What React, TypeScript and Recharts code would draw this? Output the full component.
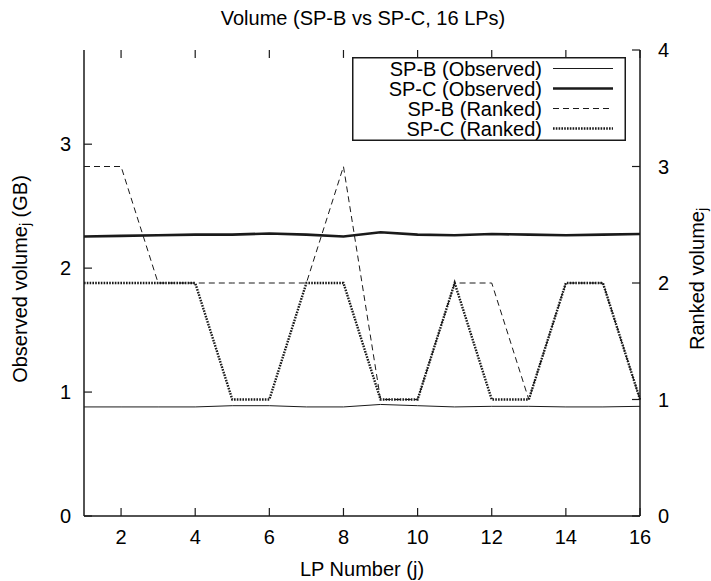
import React from 'react';
import { LineChart, Line, XAxis, YAxis, Legend, Label, ReferenceLine } from 'recharts';

const lpNumbers = [1, 2, 3, 4, 5, 6, 7, 8, 9, 10, 11, 12, 13, 14, 15, 16];
const spbObserved = [0.88, 0.88, 0.88, 0.88, 0.89, 0.89, 0.88, 0.88, 0.9, 0.89, 0.88, 0.885, 0.885, 0.88, 0.88, 0.885];
const spcObserved = [2.255, 2.26, 2.265, 2.27, 2.27, 2.28, 2.27, 2.255, 2.29, 2.27, 2.265, 2.275, 2.27, 2.265, 2.27, 2.275];
const spbRanked = [3, 3, 2, 2, 2, 2, 2, 3, 1, 1, 2, 2, 1, 2, 2, 1];
const spcRanked = [2, 2, 2, 2, 1, 1, 2, 2, 1, 1, 2, 1, 1, 2, 2, 1];

const xTicks = [2, 4, 6, 8, 10, 12, 14, 16];
const leftTicks = [0, 1, 2, 3];
const rightTicks = [0, 1, 2, 3, 4];
const rightMax = 4;

const titleText = 'Volume (SP-B vs SP-C, 16 LPs)';
const xLabelText = 'LP Number (j)';
const seriesOrder = ['spbObs', 'spcObs', 'spbRank', 'spcRank'];

const data = lpNumbers.map((lp, i) => ({
  lp,
  spbObs: spbObserved[i],
  spcObs: spcObserved[i],
  spbRank: spbRanked[i],
  spcRank: spcRanked[i],
}));

const FONT = '"Liberation Sans", Arial, Helvetica, sans-serif';
const INK = '#1a1a1a';
const TOP_TICK_LEN = 0.068; // ~8px in right-axis units

const seriesStyle: Record<string, { width: number; dash?: string }> = {
  spbObs: { width: 1 },
  spcObs: { width: 2.6 },
  spbRank: { width: 1, dash: '6 4' },
  spcRank: { width: 2.4, dash: '1.6 1.2' },
};

const renderLegend = (props: any) => {
  const payload = [...(props.payload || [])].sort(
    (a: any, b: any) => seriesOrder.indexOf(a.dataKey) - seriesOrder.indexOf(b.dataKey)
  );
  return (
    <svg width={274} height={84} style={{ display: 'block', overflow: 'visible' }}>
      <rect x={0.75} y={0.75} width={272.5} height={82.5} fill="none" stroke={INK} strokeWidth={1.5} />
      {payload.map((entry: any, i: number) => {
        const s = seriesStyle[entry.dataKey] || { width: 1 };
        const cy = 11.5 + i * 20;
        return (
          <g key={String(entry.dataKey)}>
            <text x={190} y={cy} textAnchor="end" dominantBaseline="central" fontSize={20} fontFamily={FONT} fill="#000">
              {entry.value}
            </text>
            <line x1={201} x2={261} y1={cy} y2={cy} stroke={INK} strokeWidth={s.width} strokeDasharray={s.dash} />
          </g>
        );
      })}
    </svg>
  );
};

const tickStyle = { fontSize: 20, fill: '#000', fontFamily: FONT };
const axisLine = { stroke: INK, strokeWidth: 1.5 };
const tickLine = { stroke: INK, strokeWidth: 1.2 };

export default function App() {
  return (
    <div style={{ position: 'absolute', left: 0, top: 0, width: 711, height: 581, background: '#fff' }}>
      <div
        style={{
          position: 'absolute',
          left: 84,
          top: 8,
          width: 558,
          textAlign: 'center',
          fontFamily: FONT,
          fontSize: 20,
          lineHeight: '20px',
          color: '#000',
          whiteSpace: 'nowrap',
          zIndex: 2,
        }}
      >
        {titleText}
      </div>
      <LineChart width={711} height={581} data={data} margin={{ top: 50, right: 0, bottom: 0, left: 0 }}>
        <XAxis
          dataKey="lp"
          type="number"
          domain={[1, 16]}
          ticks={xTicks}
          interval={0}
          height={65}
          tick={tickStyle}
          tickSize={-8}
          tickMargin={22}
          axisLine={axisLine}
          tickLine={tickLine}
        >
          <Label
            content={(p: any) => {
              const vb = p.viewBox || {};
              return (
                <text x={vb.x + vb.width / 2} y={vb.y + vb.height - 5} textAnchor="middle" fontSize={20} fontFamily={FONT} fill="#000">
                  {xLabelText}
                </text>
              );
            }}
          />
        </XAxis>
        <XAxis
          xAxisId="top"
          orientation="top"
          dataKey="lp"
          type="number"
          domain={[1, 16]}
          ticks={xTicks}
          interval={0}
          height={0}
          tick={false}
          tickLine={false}
          axisLine={axisLine}
        />
        <YAxis
          yAxisId="left"
          orientation="left"
          type="number"
          domain={[0, 3.76]}
          ticks={leftTicks}
          interval={0}
          width={84}
          tick={tickStyle}
          tickSize={-8}
          tickMargin={21}
          axisLine={axisLine}
          tickLine={tickLine}
        >
          <Label
            content={(p: any) => {
              const vb = p.viewBox || {};
              const cx = vb.x + 20;
              const cy = vb.y + vb.height / 2 - 4;
              return (
                <text transform={`rotate(-90, ${cx}, ${cy})`} x={cx} y={cy} textAnchor="middle" dominantBaseline="central" fontSize={20} fontFamily={FONT} fill="#000">
                  Observed volume<tspan dy={5} fontSize={14}>j</tspan>
                  <tspan dy={-5}> (GB)</tspan>
                </text>
              );
            }}
          />
        </YAxis>
        <YAxis
          yAxisId="right"
          orientation="right"
          type="number"
          domain={[0, rightMax]}
          ticks={rightTicks}
          interval={0}
          width={71}
          tick={tickStyle}
          tickSize={-8}
          tickMargin={26}
          axisLine={axisLine}
          tickLine={tickLine}
        >
          <Label
            content={(p: any) => {
              const vb = p.viewBox || {};
              const cx = vb.x + 57;
              const cy = vb.y + vb.height / 2 - 4;
              return (
                <text transform={`rotate(-90, ${cx}, ${cy})`} x={cx} y={cy} textAnchor="middle" dominantBaseline="central" fontSize={20} fontFamily={FONT} fill="#000">
                  Ranked volume<tspan dy={5} fontSize={14}>j</tspan>
                </text>
              );
            }}
          />
        </YAxis>
        {xTicks.map((t) => (
          <ReferenceLine
            key={`tt-${t}`}
            yAxisId="right"
            segment={[{ x: t, y: rightMax }, { x: t, y: rightMax - TOP_TICK_LEN }]}
            stroke={INK}
            strokeWidth={1.2}
            ifOverflow="visible"
          />
        ))}
        <Legend
          layout="horizontal"
          verticalAlign="middle"
          align="center"
          content={renderLegend}
          wrapperStyle={{ position: 'absolute', left: 352, top: 57, width: 274, height: 84 }}
        />
        <Line yAxisId="left" type="linear" dataKey="spbObs" name="SP-B (Observed)" stroke={INK} strokeWidth={seriesStyle.spbObs.width} dot={false} activeDot={false} isAnimationActive={false} />
        <Line yAxisId="left" type="linear" dataKey="spcObs" name="SP-C (Observed)" stroke={INK} strokeWidth={seriesStyle.spcObs.width} dot={false} activeDot={false} isAnimationActive={false} />
        <Line yAxisId="right" type="linear" dataKey="spbRank" name="SP-B (Ranked)" stroke={INK} strokeWidth={seriesStyle.spbRank.width} strokeDasharray={seriesStyle.spbRank.dash} dot={false} activeDot={false} isAnimationActive={false} />
        <Line yAxisId="right" type="linear" dataKey="spcRank" name="SP-C (Ranked)" stroke={INK} strokeWidth={seriesStyle.spcRank.width} strokeDasharray={seriesStyle.spcRank.dash} dot={false} activeDot={false} isAnimationActive={false} />
      </LineChart>
    </div>
  );
}
